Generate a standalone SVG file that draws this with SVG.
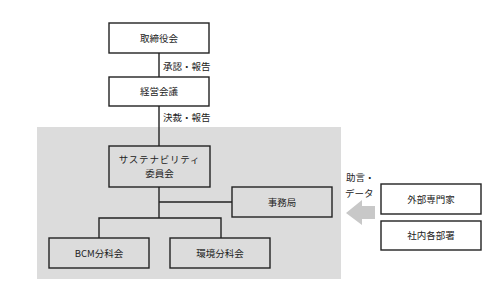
<svg xmlns="http://www.w3.org/2000/svg" width="498" height="302" viewBox="0 0 498 302">
<style>
.box{fill:#fff;stroke:#222;stroke-width:1.4}
.inbox{fill:#dcdcdc;stroke:#222;stroke-width:1.4}
.t{font-family:"Noto Sans CJK JP","Liberation Serif",serif;font-size:9.5px;fill:#222;text-anchor:middle}
.l{font-family:"Noto Sans CJK JP","Liberation Serif",serif;font-size:9.5px;fill:#222}
.c{fill:none;stroke:#222;stroke-width:1.4}
</style>
<rect width="498" height="302" fill="#fff"/>
<rect x="37" y="127" width="304" height="152" fill="#dcdcdc"/>
<g id="connectors">
<path class="c" d="M159 53V77M159 106V146M159 187V218M159 202H232M99 238V218H221V238"/>
<polygon points="346,213 362,200 362,206 375,206 375,219 362,219 362,225" fill="#c8c8c8"/>
</g>
<text class="l" x="163" y="70">承認・報告</text>
<text class="l" x="163" y="121">決裁・報告</text>
<text class="l" x="346" y="181">助言・</text>
<text class="l" x="345" y="197">データ</text>
<g id="board"><rect class="box" x="109" y="23" width="100" height="30"/><text class="t" x="159" y="41.5">取締役会</text></g>
<g id="mgmt"><rect class="box" x="109" y="77" width="100" height="29"/><text class="t" x="159" y="95">経営会議</text></g>
<g id="committee"><rect class="inbox" x="109" y="146" width="101" height="41"/><text class="t" x="159.5" y="163" letter-spacing="0.8">サステナビリティ</text><text class="t" x="159.5" y="177">委員会</text></g>
<g id="office"><rect class="inbox" x="232" y="187" width="100" height="30"/><text class="t" x="282" y="205.5">事務局</text></g>
<g id="bcm"><rect class="inbox" x="49" y="238" width="100" height="30"/><text class="t" x="99" y="256.5">BCM分科会</text></g>
<g id="env"><rect class="inbox" x="170" y="238" width="100" height="30"/><text class="t" x="220" y="256.5">環境分科会</text></g>
<g id="external"><rect class="box" x="381" y="184" width="100" height="30"/><text class="t" x="431" y="202.5">外部専門家</text></g>
<g id="internal"><rect class="box" x="381" y="221" width="100" height="29"/><text class="t" x="431" y="239">社内各部署</text></g>
</svg>
